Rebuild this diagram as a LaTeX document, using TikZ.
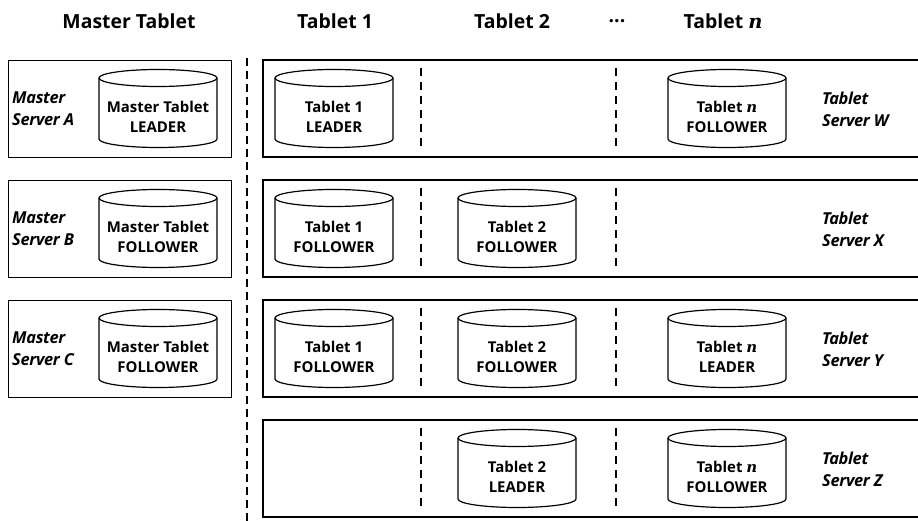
\documentclass[tikz,border=0pt]{standalone}
\usepackage{fontspec}
\setmainfont{Open Sans}
\newfontfamily\nfont{DejaVu Serif}
\newcommand\nvar{{\nfont\itshape n}}
\newcommand\cylnd[4]{%
  \node[cylt] (#1) at (#2,#3+8.5) {#4};
  \draw[cyl] (#2-59,#3-30.5) -- (#2-59,#3+30.5) arc[start angle=180,end angle=0,x radius=59,y radius=8.5] -- (#2+59,#3-30.5);
  \draw[cyl] (#2,#3-30.5) ellipse[x radius=59,y radius=8.5];}
\begin{document}
\begin{tikzpicture}[x=1bp,y=-1bp,
  box/.style={draw, line width=1.4bp, minimum width=223bp, minimum height=97bp, anchor=north west, inner sep=0},
  rbox/.style={line width=1.4bp},
  cyl/.style={line width=1.2bp},
  sepline/.style={line width=2bp, dash pattern=on 8bp off 5bp},
  inline/.style={line width=2bp, dash pattern=on 8bp off 6bp},
  cylt/.style={align=center, font=\fontsize{15}{20}\selectfont\bfseries, inner sep=0},
  hdr/.style={font=\fontsize{19.5}{22}\selectfont\bfseries, inner sep=0},
  srv/.style={align=left, font=\fontsize{16.5}{22}\selectfont\bfseries\itshape\addfontfeatures{LetterSpace=-2}, anchor=west, inner sep=0}]
\useasboundingbox (0,0) rectangle (918,521);
% headers
\node[hdr] (hm) at (129,21) {Master Tablet};
\node[hdr] (h1) at (335,21) {Tablet 1};
\node[hdr] (h2) at (512,21) {Tablet 2};
\node[hdr] (hd) at (617,21) {...};
\node[hdr] (hn) at (723,21) {Tablet \nvar};
% main separator
\coordinate (st) at (247,58);
\coordinate (sb) at (247,521);
\draw[sepline] (st) -- (sb);
% left boxes
\node[box] (L1) at (8,60) {};
\node[box] (L2) at (8,180) {};
\node[box] (L3) at (8,300) {};
% right boxes
\foreach \t in {60,180,300,420}{
  \draw[rbox] (919,\t) -- (263,\t) -- (263,\t+97) -- (919,\t+97);
  \draw[inline] (421,\t+8) -- (421,\t+88);
  \draw[inline] (616,\t+8) -- (616,\t+88);
}
% server labels
\node[srv] (sA) at (12,109) {Master\\Server A};
\node[srv] (sB) at (12,229) {Master\\Server B};
\node[srv] (sC) at (12,349) {Master\\Server C};
\node[srv] (sW) at (822,109) {Tablet\\Server W};
\node[srv] (sX) at (822,229) {Tablet\\Server X};
\node[srv] (sY) at (822,349) {Tablet\\Server Y};
\node[srv] (sZ) at (822,469) {Tablet\\Server Z};
% cylinders
\cylnd{m1}{158}{108.5}{Master Tablet\\LEADER}
\cylnd{m2}{158}{228.5}{Master Tablet\\FOLLOWER}
\cylnd{m3}{158}{348.5}{Master Tablet\\FOLLOWER}
\cylnd{a1}{334}{108.5}{Tablet 1\\LEADER}
\cylnd{a2}{334}{228.5}{Tablet 1\\FOLLOWER}
\cylnd{a3}{334}{348.5}{Tablet 1\\FOLLOWER}
\cylnd{b2}{517}{228.5}{Tablet 2\\FOLLOWER}
\cylnd{b3}{517}{348.5}{Tablet 2\\FOLLOWER}
\cylnd{b4}{517}{468.5}{Tablet 2\\LEADER}
\cylnd{n1}{727}{108.5}{Tablet \nvar\\FOLLOWER}
\cylnd{n3}{727}{348.5}{Tablet \nvar\\LEADER}
\cylnd{n4}{727}{468.5}{Tablet \nvar\\FOLLOWER}
\end{tikzpicture}
\end{document}
